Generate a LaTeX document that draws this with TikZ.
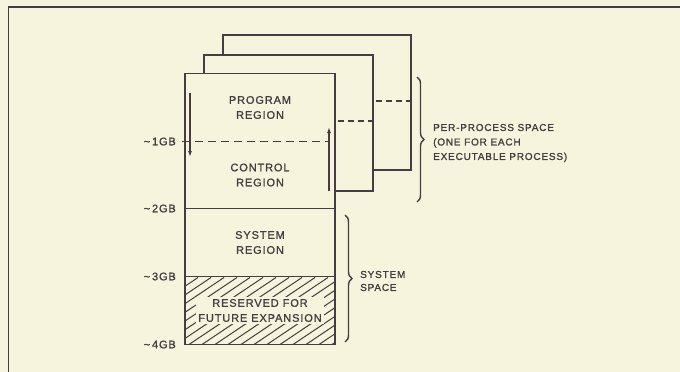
\documentclass[tikz,border=0pt]{standalone}
\usepackage{fontspec}
\setmainfont{Liberation Sans}[LetterSpace=8,FakeBold=1.2]
\usepackage{tikz}
\usetikzlibrary{arrows.meta,positioning,calc,decorations.pathreplacing}
\definecolor{paper}{HTML}{F6F4DC}
\definecolor{ink}{HTML}{463C41}
\tikzset{
  page/.style={draw=ink,fill=paper,line width=1.5pt,inner sep=0pt,anchor=north west},
  region/.style={fill=paper,inner sep=0pt,outer sep=0pt,minimum width=150pt,align=center,
    font=\fontsize{11}{15}\selectfont,text=ink},
  gblabel/.style={inner sep=0pt,font=\fontsize{11}{12}\selectfont,text=ink},
  note/.style={inner sep=0pt,align=left,font=\fontsize{10}{14.5}\selectfont,text=ink},
  outline/.style={draw=ink,line width=1.5pt},
  boundary/.style={draw=ink,line width=1.6pt,dash pattern=on 8pt off 5pt},
  growth/.style={-{Latex[length=6pt,width=4pt]},draw=ink,line width=1.4pt},
  hatch/.style={draw=ink,line width=1pt},
  spacebrace/.style={decorate,decoration={brace,amplitude=7pt},draw=ink,line width=1.4pt}
}

\begin{document}
\begin{tikzpicture}[x=1pt,y=-1pt]
\fill[paper] (0,0) rectangle (680,372);
\useasboundingbox (0,0) rectangle (680,372);
\draw[outline] (8.7,372) -- (8.7,7) -- (680,7);

% pages of the other processes
\node[page,minimum width=188pt,minimum height=135pt] (page3) at (222,34) {};
\draw[boundary,dash pattern=on 6pt off 4pt] ($(page3.north east)+(0,67)$) -- ++(-39,0);
\node[page,minimum width=169pt,minimum height=136pt] (page2) at (203,54) {};
\draw[boundary,dash pattern=on 6pt off 4pt] ($(page2.north east)+(0,67)$) -- ++(-37,0);

% address space
\node[region,minimum height=68pt,anchor=north west] (prog) at (185,73.5) {PROGRAM\\REGION};
\node[region,minimum height=67pt,below=0pt of prog] (ctrl) {CONTROL\\REGION};
\node[region,minimum height=68pt,below=0pt of ctrl] (sys) {SYSTEM\\REGION};
\node[region,minimum height=68pt,below=0pt of sys] (resv) {};

\begin{scope}
\clip (resv.south west) rectangle (resv.north east);
\foreach \k in {0,...,19}
  \draw[hatch] ($(resv.south west)+(\k*13-100,0)$) -- ++(100,-67);
\end{scope}
\node[region,minimum width=0pt,minimum height=0pt,inner sep=2pt] (resvtxt) at (resv.center) {RESERVED FOR\\FUTURE EXPANSION};

\draw[outline] (prog.north west) rectangle (resv.south east);
\draw[outline] (sys.north west) -- (sys.north east);
\draw[outline] (resv.north west) -- (resv.north east);
\draw[boundary] ($(prog.south west)+(-3,0)$) -- ($(prog.south east)+(-6,0)$);

\coordinate (p0from) at ($(prog.north west)+(5,19)$);
\coordinate (p0to) at ($(ctrl.north west)+(5,15.5)$);
\draw[growth] (p0from) -- (p0to);
\coordinate (p1from) at ($(ctrl.south east)+(-6,-18)$);
\coordinate (p1to) at ($(prog.south east)+(-6,-14.5)$);
\draw[growth] (p1from) -- (p1to);

\node[gblabel,left=9pt of prog.south west] (gb1) {\textasciitilde\,1GB};
\node[gblabel,left=9pt of ctrl.south west] (gb2) {\textasciitilde\,2GB};
\node[gblabel,left=9pt of sys.south west] (gb3) {\textasciitilde\,3GB};
\node[gblabel,left=9pt of resv.south west] (gb4) {\textasciitilde\,4GB};

% braces
\coordinate (pptop) at (417,77);
\coordinate (ppbot) at (417,202);
\coordinate (pptip) at (425,143);
\draw[spacebrace] (pptop) -- (ppbot);
\node[note,right=8pt of pptip] (pptext) {PER-PROCESS SPACE\\(ONE FOR EACH\\EXECUTABLE PROCESS)};

\coordinate (systop) at (345,215);
\coordinate (sysbot) at (345,342);
\coordinate (systip) at (352,281);
\draw[spacebrace] (systop) -- (sysbot);
\node[note,right=8pt of systip,font=\fontsize{10}{13}\selectfont] (systext) {SYSTEM\\SPACE};
\end{tikzpicture}
\end{document}
